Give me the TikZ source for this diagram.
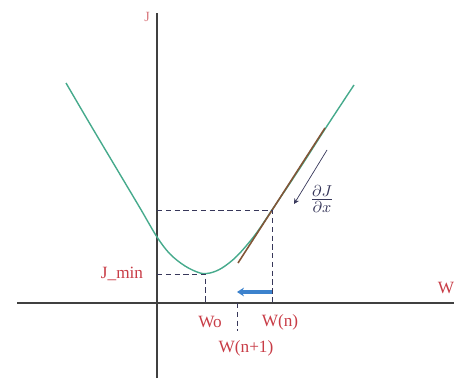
\documentclass[tikz,border=0pt]{standalone}
\usepackage{fontspec}
\setmainfont{Liberation Serif}
\usepackage{tikz}
\usetikzlibrary{arrows.meta,calc}
\definecolor{curveG}{RGB}{70,170,140}
\definecolor{labelR}{RGB}{200,60,70}
\definecolor{tanB}{RGB}{130,85,55}
\definecolor{stepB}{RGB}{60,130,205}
\definecolor{guideN}{RGB}{55,55,90}
\tikzset{
  axisline/.style={line width=0.8pt, black!75},
  guide/.style={densely dashed, line width=0.5pt, guideN},
  wlabel/.style={font=\fontsize{9.8}{11}\selectfont, text=labelR, inner sep=1pt},
  costcurve/.style={line width=0.8pt, curveG},
  tangent/.style={line width=0.9pt, tanB},
  stepArrow/.style={-{Stealth[length=4pt,width=5pt]}, line width=1.8pt, stepB},
}
\begin{document}
\begin{tikzpicture}[x=0.02cm,y=-0.02cm]
  \useasboundingbox (0,0) rectangle (454,382);
  % axes
  \coordinate (xl) at (17,303);   \coordinate (xr) at (454,303);
  \coordinate (yt) at (157,13);   \coordinate (yb) at (157,378);
  \draw[axisline] (xl) -- (xr);
  \draw[axisline] (yb) -- (yt);
  \node[wlabel, text=labelR!70, font=\fontsize{8}{9}\selectfont] (Jlab) at (147,17) {J};
  \node[wlabel] (Wlab) at (446,288) {W};
  % cost curve
  \draw[costcurve] plot[smooth, tension=0.55] coordinates {
    (66,83) (90,124) (115,166) (140,208) (157,237) (170,254) (185,266)
    (200,273) (210,273) (222,268) (237,256) (255,235) (272,210)
    (300,168) (327,126) (354,85)};
  % points on the curve
  \coordinate (Wn) at (272,210);
  \coordinate (Wnx) at (272,303);
  \coordinate (Wny) at (157,210);
  \coordinate (Wmin) at (205,274);
  \coordinate (Wox) at (205,303);
  \coordinate (Jy) at (157,274);
  \coordinate (Wn1) at (237,303);
  \coordinate (Wn1b) at (237,331);
  % tangent at W(n)
  \coordinate (ta) at (238,263);
  \coordinate (tb) at (325,128);
  \draw[tangent] (ta) -- (tb);
  % guides
  \draw[guide] (Wny) -- (Wn) -- (Wnx);
  \draw[guide] (Jy) -- (Wmin) -- (Wox);
  \draw[guide] (Wn1) -- (Wn1b);
  % step
  \coordinate (sa) at (272,292);
  \coordinate (sb) at (237,292);
  \draw[stepArrow] (sa) -- (sb);
  % gradient
  \coordinate (ga) at (327,150);
  \coordinate (gb) at (294,204);
  \draw[-{Stealth[length=3pt,width=3pt]}, thin, guideN] (ga) -- (gb);
  \node[text=guideN, font=\fontsize{13}{15}\selectfont] (grad) at (322,199) {$\frac{\partial J}{\partial x}$};
  % labels
  \node[wlabel] (Jmin) at (122,274) {J\_min};
  \node[wlabel] (Wo) at (210,322) {Wo};
  \node[wlabel] (WnL) at (280,322) {W(n)};
  \node[wlabel] (Wn1L) at (246,348) {W(n+1)};
\end{tikzpicture}
\end{document}
